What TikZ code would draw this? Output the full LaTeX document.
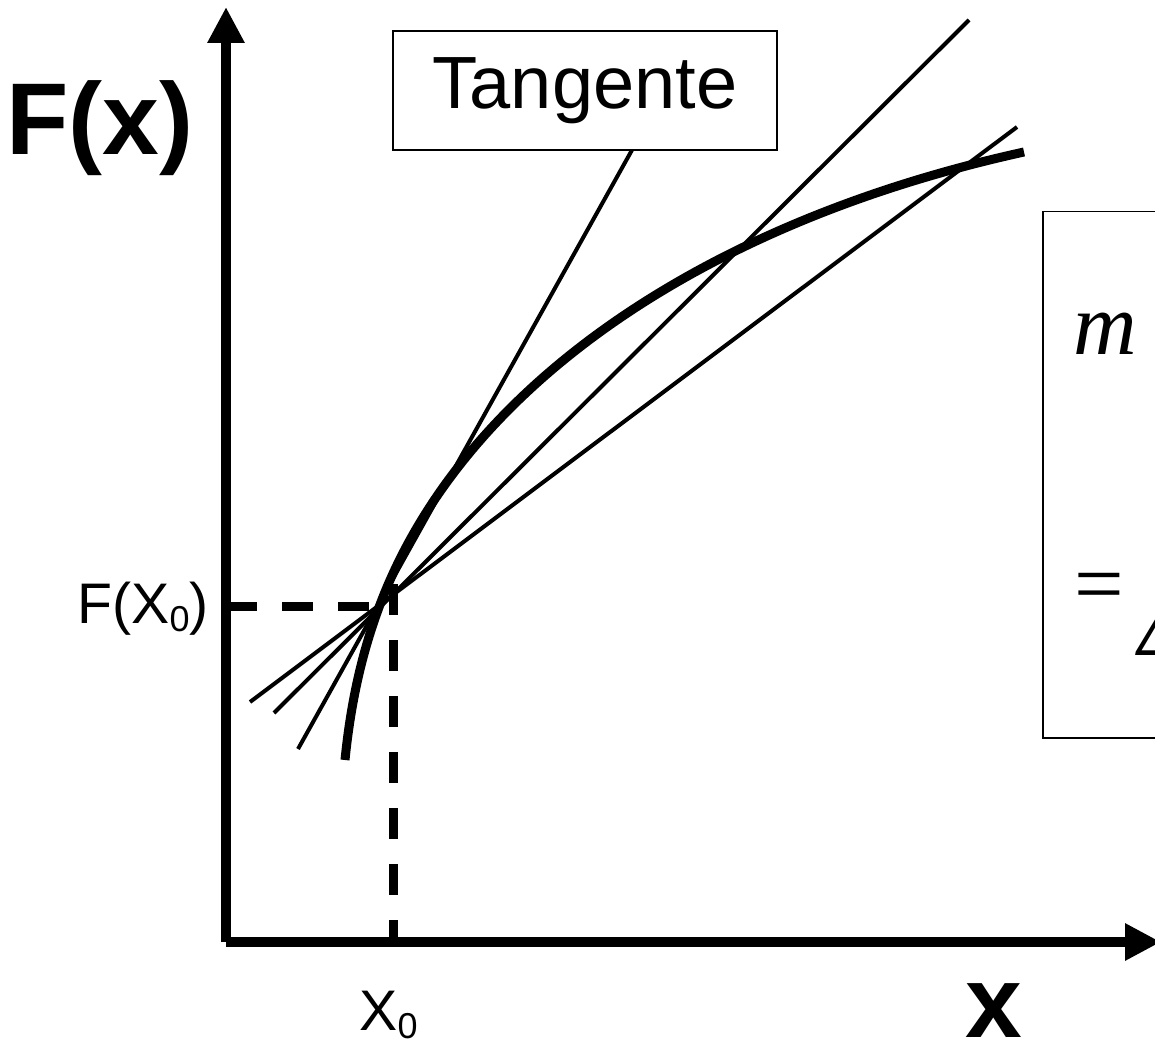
\documentclass[tikz,border=0pt]{standalone}
\usepackage{fontspec}
\setmainfont{Liberation Sans}
\newfontfamily\serifit{Liberation Serif}
\usetikzlibrary{arrows.meta,positioning}
\newcommand{\sub}[1]{\raisebox{-4pt}{\fontsize{18}{18}\selectfont #1}}

\begin{document}
\begin{tikzpicture}[x=0.5pt,y=-0.5pt,
  axis/.style={line width=5pt,-{Triangle[length=18pt,width=17.5pt]}},
  secant/.style={line width=2pt},
  curve/.style={line width=4.5pt},
  guide/.style={line width=4.5pt,dash pattern=on 15.5pt off 12.5pt},
  lbl/.style={inner sep=0pt,anchor=base west},
  box/.style={draw,line width=0.75pt,inner sep=0pt}]
\path[use as bounding box,clip] (0,0) rectangle (1155,1042);
% axes
\coordinate (O) at (226,942);
\coordinate (ytip) at (226,7);
\coordinate (xtip) at (1161,942);
\draw[axis] (O) -- (ytip);
\draw[axis] (O) -- (xtip);
\node[lbl,font=\fontsize{51}{51}\selectfont\bfseries] (fxlab) at (6,155) {F(x)};
\node[lbl,font=\fontsize{51}{51}\selectfont\bfseries] (xlab) at (965,1037) {x};
% point x0
\coordinate (fx0) at (226,606);
\coordinate (px) at (393,606);
\coordinate (pxtop) at (393,584);
\coordinate (x0) at (393,942);
\draw[guide] (fx0) -- (px);
\draw[guide] (pxtop) -- (x0);
\node[lbl,font=\fontsize{28.6}{28.6}\selectfont] (fx0lab) at (77,623) {F(X\sub{0})};
\node[lbl,font=\fontsize{28.6}{28.6}\selectfont] (x0lab) at (359,1030) {X\sub{0}};
% tangent and secants
\node[box,minimum width=192pt,minimum height=59.5pt,font=\fontsize{37}{37}\selectfont] (tang) at (585,90.5) {Tangente};
\coordinate (tA) at (298,749);
\coordinate (tB) at (632,150);
\coordinate (sA) at (274,713);
\coordinate (sB) at (969,20);
\coordinate (rA) at (250,702);
\coordinate (rB) at (1017,127);
\draw[secant] (tA) -- (tB);
\draw[secant] (sA) -- (sB);
\draw[secant] (rA) -- (rB);
% the function
\coordinate (fstart) at (345,760);
\coordinate (fP) at (381,602);
\coordinate (fend) at (1024,152);
\draw[curve] (fstart) .. controls (350.5,705) and (361.3,653.3) .. (fP)
  .. controls (463.6,387.4) and (701.6,222.9) .. (fend);
% slope box
\node[box,anchor=north west,minimum width=200pt,minimum height=263pt] (slope) at (1042,211) {};
\node[lbl,font=\serifit\itshape\fontsize{44}{44}\selectfont] (mlab) at (1073,355) {m};
\node[lbl,font=\serifit\fontsize{44}{44}\selectfont] (eqlab) at (1074,613) {=};
\node[lbl,font=\serifit\itshape\fontsize{44}{44}\selectfont] (dlab) at (1138,655) {Δ};
\end{tikzpicture}
\end{document}
